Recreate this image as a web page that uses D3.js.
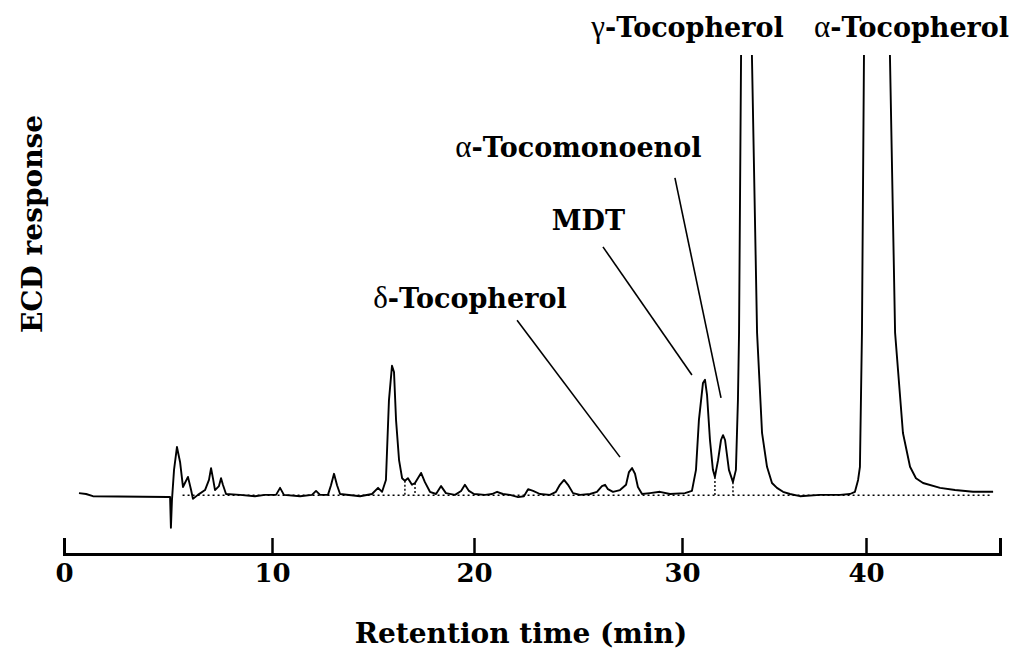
<!DOCTYPE html>
<html>
<head>
<meta charset="utf-8">
<script src="https://cdn.jsdelivr.net/npm/d3@7"></script>
<style>
  body { margin: 0; background: #fff; }
  svg { display: block; }
  .label { font-family: "DejaVu Serif", serif; font-weight: bold; fill: #000; }
  .greek { font-family: "Liberation Serif", serif; font-weight: normal; }
</style>
</head>
<body>
<div id="chart"></div>
<script>
// chromatogram trace (retention time in min, response in arbitrary units)
const traceTime = [
  0.72, 1.06, 1.39, 5.0, 5.10, 5.14, 5.19, 5.29, 5.43, 5.58, 5.72, 5.96, 6.11, 6.20, 6.44,
  6.78, 6.97, 7.07, 7.16, 7.26, 7.45, 7.55, 7.64, 7.79, 8.46, 9.18, 9.66, 10.20, 10.40, 10.59,
  11.39, 11.98, 12.18, 12.38, 12.77, 12.92, 13.07, 13.22, 13.37, 14.36, 14.95, 15.25, 15.45, 15.64, 15.79,
  15.94, 16.04, 16.14, 16.29, 16.44, 16.58, 16.73, 16.93, 17.08, 17.38, 17.57, 17.82, 18.12, 18.37, 18.61,
  19.06, 19.36, 19.55, 19.75, 20.0, 20.53, 20.87, 21.11, 21.39, 21.73, 22.12, 22.40, 22.60, 22.84, 23.17,
  23.65, 23.94, 24.13, 24.33, 24.52, 24.76, 25.10, 25.58, 25.91, 26.15, 26.30, 26.44, 26.68, 27.02, 27.31,
  27.45, 27.60, 27.74, 27.88, 28.08, 28.46, 28.94, 29.42, 30.16, 30.54, 30.76, 30.92, 31.14, 31.25, 31.36,
  31.52, 31.68, 31.79, 31.96, 32.12, 32.23, 32.34, 32.55, 32.77, 32.93, 33.04, 33.10, 33.21, 33.50, 33.80,
  34.08, 34.35, 34.62, 34.89, 35.16, 35.49, 35.87, 36.41, 37.50, 38.59, 39.13, 39.40, 39.57, 39.67, 39.78,
  39.89, 40.57, 41.25, 41.52, 41.93, 42.30, 42.61, 42.98, 43.87, 44.65, 45.59, 46.64
];
const traceResponse = [
  0.2, 0, -0.5, -0.7, -0.7, -7.7, -1.4, 5.5, 10.7, 7.3, 1.6, 3.9, 0.9, -1.1, -0.2,
  0.9, 3.2, 5.9, 3.6, 0.9, 1.8, 3.6, 2.1, 0, -0.2, -0.5, -0.2, -0.2, 1.4, -0.2,
  -0.5, -0.2, 0.7, -0.2, -0.2, 2.0, 4.6, 2.0, 0, -0.5, 0, 1.4, 0.5, 3.2, 21.4,
  29.2, 27.8, 16.9, 7.7, 3.6, 3.0, 3.6, 2.1, 2.5, 4.8, 2.7, 0.5, 0, 1.8, 0.2,
  -0.2, 0.7, 2.1, 0.7, 0, -0.2, 0, 0.5, 0, -0.2, -0.7, -0.5, 1.1, 0.7, 0,
  -0.2, 0.5, 2.1, 3.2, 2.1, 0.2, -0.2, 0, 0.5, 1.8, 2.1, 1.1, 0.5, 0.9, 2.1,
  5.0, 5.9, 4.6, 1.6, 0, 0.2, 0.5, 0, 0.2, 0.7, 5.5, 16.9, 25.3, 26.0, 22.6,
  12.3, 5.5, 3.9, 7.7, 12.3, 13.4, 12.3, 5.5, 2.7, 5.5, 21.4, 36.7, 100, 140, 100,
  36.7, 13.9, 6.2, 2.5, 1.4, 0.5, 0, -0.5, -0.2, -0.2, 0, 0.5, 3.2, 6.2, 36.7,
  100, 220, 100, 36.7, 13.9, 6.2, 3.6, 2.5, 1.4, 0.9, 0.5, 0.5
];

const xTicks = [0, 10, 20, 30, 40];
// tick marks on the scan are not evenly spaced, so the time axis is piecewise
const xBreaks = [0, 10, 20, 30, 40, 47];
const yDomain = [0, 100];

// dotted baseline and drop lines at the integration valleys
const baselineSpan = [5.7, 46.6];
const baselineLevel = -0.3;
const dropTimes = [16.58, 17.08, 31.79, 32.77];

// peak names with their leader lines (in time / response units)
const peakNames = [
  { greek: "γ", name: "Tocopherol", t: 30.3, r: 104.1, line: null },
  { greek: "α", name: "Tocopherol", t: 42.38, r: 104.1, line: null },
  { greek: "α", name: "Tocomonoenol", t: 25.02, r: 76.8, line: [29.66, 72.0, 32.12, 21.9] },
  { greek: "", name: "MDT", t: 25.5, r: 60.1, line: [26.2, 56.3, 30.54, 27.1] },
  { greek: "δ", name: "Tocopherol", t: 19.8, r: 42.4, line: [22.07, 39.6, 27.02, 8.4] }
];

const width = 1018;
const height = 652;
const plotTop = 55;
const baseY = 494;
const axisY = 554;

const svg = d3
  .select("#chart")
  .append("svg")
  .attr("width", width)
  .attr("height", height);

svg.append("rect").attr("width", width).attr("height", height).attr("fill", "#fff");

const x = d3.scaleLinear().domain(xBreaks).range([64, 272, 474, 682, 866, 1000]);
const y = d3.scaleLinear().domain(yDomain).range([baseY, plotTop]);

svg
  .append("clipPath")
  .attr("id", "clip")
  .append("rect")
  .attr("x", 0)
  .attr("y", plotTop)
  .attr("width", width)
  .attr("height", axisY - plotTop);

const trace = traceTime.map((t, i) => [t, traceResponse[i]]);

// dotted baseline
svg
  .append("line")
  .attr("x1", x(baselineSpan[0]))
  .attr("x2", x(baselineSpan[1]))
  .attr("y1", y(baselineLevel))
  .attr("y2", y(baselineLevel))
  .attr("stroke", "#000")
  .attr("stroke-width", 1.4)
  .attr("stroke-dasharray", "2,3");

svg
  .selectAll(".drop")
  .data(dropTimes)
  .enter()
  .append("line")
  .attr("class", "drop")
  .attr("x1", (d) => x(d))
  .attr("x2", (d) => x(d))
  .attr("y1", (d) => y(traceResponse[traceTime.indexOf(d)]))
  .attr("y2", y(baselineLevel))
  .attr("stroke", "#000")
  .attr("stroke-width", 1.4)
  .attr("stroke-dasharray", "2,2");

// the trace itself, clipped at the top like the recorder paper
svg
  .append("path")
  .datum(trace)
  .attr("clip-path", "url(#clip)")
  .attr("fill", "none")
  .attr("stroke", "#000")
  .attr("stroke-width", 1.9)
  .attr("stroke-linejoin", "round")
  .attr(
    "d",
    d3
      .line()
      .x((d) => x(d[0]))
      .y((d) => y(d[1]))
  );

// x axis with upward ticks
const xAxis = svg
  .append("g")
  .attr("transform", `translate(0,${axisY})`)
  .call(
    d3
      .axisBottom(x)
      .tickValues(xTicks)
      .tickSizeInner(-16)
      .tickSizeOuter(-16)
      .tickPadding(10)
      .tickFormat(d3.format("d"))
  );

xAxis.select(".domain").attr("stroke", "#000").attr("stroke-width", 3);
xAxis.selectAll(".tick line").attr("stroke", "#000").attr("stroke-width", 2.5);
xAxis
  .selectAll(".tick text")
  .attr("fill", "#000")
  .style("font-family", "'DejaVu Serif', serif")
  .style("font-weight", "bold")
  .style("font-size", "26px");

svg
  .append("text")
  .attr("class", "label")
  .attr("x", 521)
  .attr("y", 643)
  .attr("text-anchor", "middle")
  .style("font-size", "28px")
  .text("Retention time (min)");

svg
  .append("text")
  .attr("class", "label")
  .attr("transform", "translate(42,224) rotate(-90)")
  .attr("text-anchor", "middle")
  .style("font-size", "28px")
  .text("ECD response");

// peak labels
const labels = svg
  .selectAll(".peak-label")
  .data(peakNames)
  .enter()
  .append("text")
  .attr("class", "label peak-label")
  .attr("x", (d) => x(d.t))
  .attr("y", (d) => y(d.r))
  .attr("text-anchor", "middle")
  .style("font-size", "27px");

labels
  .filter((d) => d.greek)
  .append("tspan")
  .attr("class", "greek")
  .style("font-size", "31px")
  .text((d) => d.greek);

labels.append("tspan").text((d) => (d.greek ? "-" : "") + d.name);

svg
  .selectAll(".leader")
  .data(peakNames.filter((d) => d.line))
  .enter()
  .append("line")
  .attr("class", "leader")
  .attr("x1", (d) => x(d.line[0]))
  .attr("y1", (d) => y(d.line[1]))
  .attr("x2", (d) => x(d.line[2]))
  .attr("y2", (d) => y(d.line[3]))
  .attr("stroke", "#000")
  .attr("stroke-width", 1.6);
</script>
</body>
</html>
